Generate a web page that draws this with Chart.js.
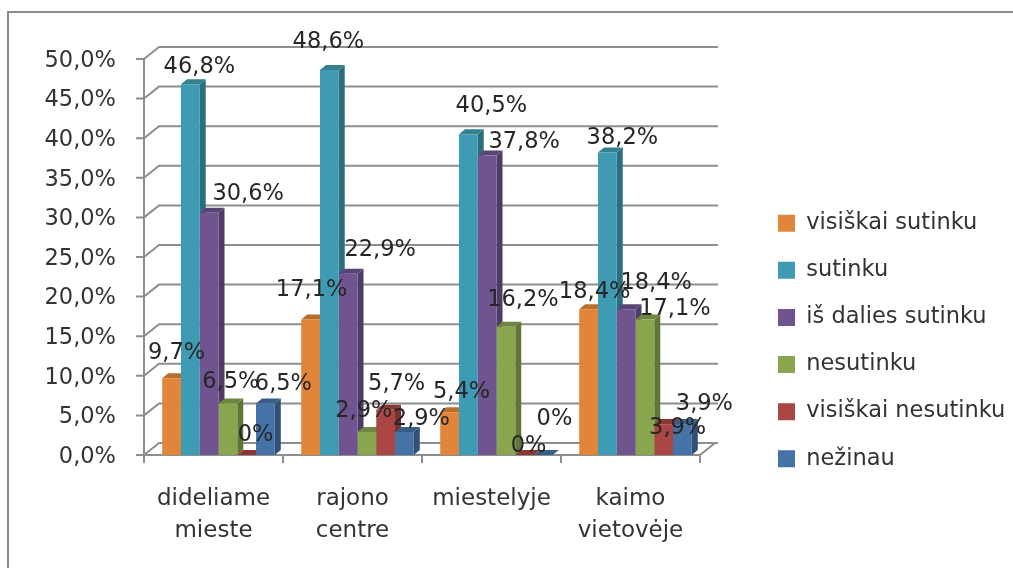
<!DOCTYPE html>
<html>
<head>
<meta charset="utf-8">
<script src="https://cdn.jsdelivr.net/npm/chart.js@4"></script>
<style>
  html, body { margin: 0; padding: 0; background: #fff; }
  #wrap { width: 1013px; height: 568px; position: relative; overflow: hidden; }
</style>
</head>
<body>
<div id="wrap"><canvas id="chart" width="1013" height="568"></canvas></div>
<script>
// Values
const categories = [['dideliame', 'mieste'], ['rajono', 'centre'], 'miestelyje', ['kaimo', 'vietovėje']];
const seriesNames = ['visiškai sutinku', 'sutinku', 'iš dalies sutinku', 'nesutinku', 'visiškai nesutinku', 'nežinau'];
const visiskaiSutinku = [9.7, 17.1, 5.4, 18.4];
const sutinku = [46.8, 48.6, 40.5, 38.2];
const isDaliesSutinku = [30.6, 22.9, 37.8, 18.4];
const nesutinku = [6.5, 2.9, 16.2, 17.1];
const visiskaiNesutinku = [0, 5.7, 0, 3.9];
const nezinau = [6.5, 2.9, 0, 3.9];
const seriesValues = [visiskaiSutinku, sutinku, isDaliesSutinku, nesutinku, visiskaiNesutinku, nezinau];

const frontColors = ['#E08539', '#3F9BB3', '#70548F', '#89A54E', '#AA4643', '#4572A7'];
const sideColors = ['#A86228', '#2C6E80', '#4F3B66', '#617537', '#7A312F', '#305078'];
const topColors = ['#B96E2E', '#33808F', '#5A4375', '#6F863E', '#8B3835', '#385E88'];

// Label nudges from the bar top, per series then per category: [dx, dy]
const labelNudges = [
    [[5, -25], [1, -29], [12, -20], [6, -17]],
    [[9, -17], [-1, -28], [23, -28], [15, -14]],
    [[39, -18], [32, -23], [37, -13], [30, -26]],
    [[3, -21], [-3, -21], [17, -27], [30, -10]],
    [[9, -20], [11, -26], [4, -9], [14, 4]],
    [[18, -19], [17, -13], [11, -36], [22, -20]]
];

const depthX = 15;   // wall depth
const depthY = 12;
const barDepthX = 6;
const barDepthY = 5;
const axisShift = 5; // the drawn axis sits a little left of the bars
const gridColor = '#8E8E8E';
const fontName = '"DejaVu Sans", sans-serif';

// Page frame, walls and axes of the fake 3D box
const wallsPlugin = {
    id: 'walls',
    afterLayout(chart) {
        const legend = chart.legend;
        legend.left = 778 - legend.options.labels.padding;
        legend.top = 212 - legend.options.labels.padding;
        legend.right = 1013;
        legend.bottom = 568;
    },
    beforeDatasetsDraw(chart) {
        const { ctx, chartArea, scales } = chart;
        const left = chartArea.left - axisShift;
        const right = chartArea.right - axisShift;
        const bottom = scales.y.getPixelForValue(0);

        ctx.save();
        ctx.strokeStyle = '#8A8A8A';
        ctx.lineWidth = 2;
        ctx.strokeRect(8, 12, 1100, 1100);

        ctx.strokeStyle = gridColor;
        ctx.lineWidth = 2;
        ctx.beginPath();
        scales.y.ticks.forEach(t => {
            const y = scales.y.getPixelForValue(t.value);
            ctx.moveTo(left - 8, y);
            ctx.lineTo(left, y);
            ctx.lineTo(left + depthX, y - depthY);
            ctx.lineTo(right + depthX + 3, y - depthY);
        });
        // axis lines
        ctx.moveTo(left, scales.y.getPixelForValue(50));
        ctx.lineTo(left, bottom + 8);
        ctx.moveTo(left - 8, bottom);
        ctx.lineTo(right, bottom);
        ctx.lineTo(right + depthX, bottom - depthY);
        for (let i = 1; i <= categories.length; i++) {
            const x = left + (right - left) * i / categories.length;
            ctx.moveTo(x, bottom);
            ctx.lineTo(x, bottom + 8);
        }
        ctx.stroke();

        // sides and caps go behind every front face
        chart.data.datasets.forEach((ds, d) => {
            chart.getDatasetMeta(d).data.forEach(bar => {
                const l = bar.x - bar.width / 2;
                const r = bar.x + bar.width / 2;
                ctx.fillStyle = sideColors[d];
                ctx.beginPath();
                ctx.moveTo(r, bar.y);
                ctx.lineTo(r + barDepthX, bar.y - barDepthY);
                ctx.lineTo(r + barDepthX, bar.base - barDepthY);
                ctx.lineTo(r, bar.base);
                ctx.closePath();
                ctx.fill();
                ctx.fillStyle = topColors[d];
                ctx.beginPath();
                ctx.moveTo(l, bar.y);
                ctx.lineTo(l + barDepthX, bar.y - barDepthY);
                ctx.lineTo(r + barDepthX, bar.y - barDepthY);
                ctx.lineTo(r, bar.y);
                ctx.closePath();
                ctx.fill();
            });
        });
        ctx.restore();
    },
    afterDatasetsDraw(chart) {
        const { ctx } = chart;
        ctx.save();
        ctx.font = '22.5px ' + fontName;
        ctx.fillStyle = '#262626';
        ctx.textAlign = 'center';
        ctx.textBaseline = 'middle';
        chart.data.datasets.forEach((ds, d) => {
            chart.getDatasetMeta(d).data.forEach((bar, i) => {
                const text = String(ds.data[i]).replace('.', ',') + '%';
                const nudge = labelNudges[d][i];
                ctx.fillText(text, bar.x + nudge[0], bar.y + nudge[1]);
            });
        });
        ctx.restore();
    }
};

new Chart(document.getElementById('chart').getContext('2d'), {
    type: 'bar',
    data: {
        labels: categories,
        datasets: seriesNames.map((name, d) => ({
            label: name,
            data: seriesValues[d],
            backgroundColor: frontColors[d],
            borderWidth: 0,
            categoryPercentage: 0.81,
            barPercentage: 1
        }))
    },
    options: {
        responsive: false,
        animation: false,
        layout: { padding: { left: 0, top: 59, right: 73, bottom: 0 } },
        plugins: {
            tooltip: { enabled: false },
            legend: {
                position: 'right',
                align: 'start',
                onClick: null,
                labels: {
                    boxWidth: 17,
                    boxHeight: 17,
                    padding: 24.6,
                    color: '#333333',
                    font: { family: fontName, size: 22.5 }
                }
            }
        },
        scales: {
            x: {
                grid: { display: false },
                border: { display: false },
                afterFit(scale) { scale.height = 113; },
                ticks: {
                    color: '#333333',
                    padding: 20,
                    labelOffset: -axisShift,
                    maxRotation: 0,
                    autoSkip: false,
                    font: { family: fontName, size: 23, lineHeight: 1.4 }
                }
            },
            y: {
                min: 0,
                max: 50,
                grid: { display: false },
                border: { display: false },
                afterFit(scale) { scale.width = 149; },
                ticks: {
                    stepSize: 5,
                    padding: 25,
                    labelOffset: 2,
                    color: '#333333',
                    font: { family: fontName, size: 22.5 },
                    callback: v => v.toFixed(1).replace('.', ',') + '%'
                }
            }
        }
    },
    plugins: [wallsPlugin]
});
</script>
</body>
</html>
